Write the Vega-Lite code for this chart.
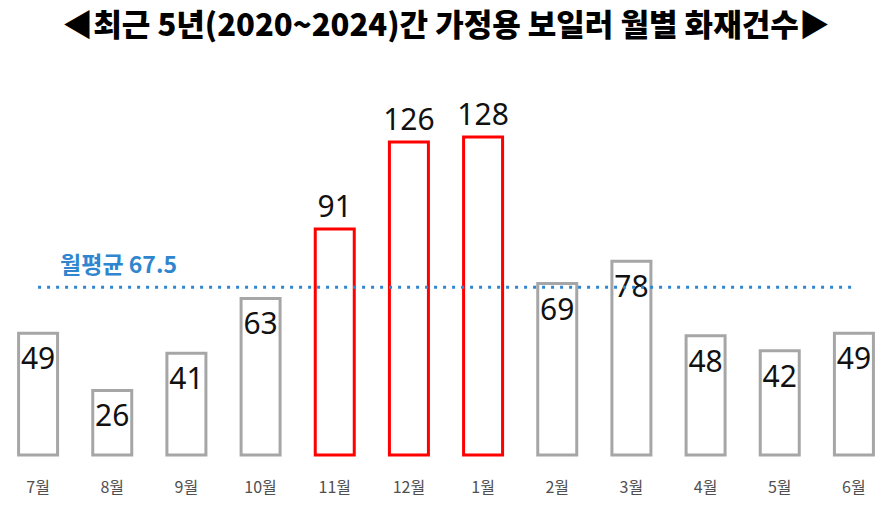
{
  "$schema": "https://vega.github.io/schema/vega-lite/v6.json",
  "autosize": {"type": "none"},
  "width": 890,
  "height": 400,
  "padding": {"left": 1, "right": 5, "top": 55, "bottom": 54},
  "background": "white",
  "title": {
    "text": "◀최근 5년(2020~2024)간 가정용 보일러 월별 화재건수▶",
    "font": "Noto Sans CJK KR",
    "fontSize": 31,
    "fontWeight": 900,
    "color": "#000000",
    "anchor": "middle",
    "offset": 12
  },
  "config": {"view": {"stroke": null}},
  "datasets": {
    "bars": [
      {"month": "7월", "count": 49, "peak": "N"},
      {"month": "8월", "count": 26, "peak": "N"},
      {"month": "9월", "count": 41, "peak": "N"},
      {"month": "10월", "count": 63, "peak": "N"},
      {"month": "11월", "count": 91, "peak": "Y"},
      {"month": "12월", "count": 126, "peak": "Y"},
      {"month": "1월", "count": 128, "peak": "Y"},
      {"month": "2월", "count": 69, "peak": "N"},
      {"month": "3월", "count": 78, "peak": "N"},
      {"month": "4월", "count": 48, "peak": "N"},
      {"month": "5월", "count": 42, "peak": "N"},
      {"month": "6월", "count": 49, "peak": "N"}
    ],
    "avg": [
      {"start": "7월", "end": "6월", "avg": 67.5, "label": "월평균 67.5"}
    ]
  },
  "layer": [
    {
      "data": {"name": "bars"},
      "mark": {"type": "bar", "width": 39, "fill": "white", "strokeWidth": 3},
      "encoding": {
        "x": {
          "field": "month", "type": "nominal", "sort": null,
          "scale": {"domain": ["7월", "8월", "9월", "10월", "11월", "12월", "1월", "2월", "3월", "4월", "5월", "6월"], "paddingInner": 0, "paddingOuter": 0},
          "axis": {"title": null, "ticks": false, "domain": false, "labelAngle": 0, "labelPadding": 24, "labelFontSize": 16, "labelColor": "#505050", "labelFont": "Noto Sans CJK KR", "grid": false}
        },
        "y": {"field": "count", "type": "quantitative", "scale": {"domain": [0, 161], "nice": false, "zero": true}, "axis": null},
        "stroke": {"field": "peak", "type": "nominal", "scale": {"domain": ["N", "Y"], "range": ["#a6a6a6", "#ff0000"]}, "legend": null}
      }
    },
    {
      "data": {"name": "bars"},
      "transform": [{"filter": "datum.peak == 'N'"}],
      "mark": {"type": "text", "baseline": "top", "dy": 12, "fontSize": 30, "font": "Noto Sans", "color": "#111111"},
      "encoding": {
        "x": {"field": "month", "type": "nominal", "sort": null},
        "y": {"field": "count", "type": "quantitative"},
        "text": {"field": "count", "type": "quantitative"}
      }
    },
    {
      "data": {"name": "bars"},
      "transform": [{"filter": "datum.peak == 'Y'"}],
      "mark": {"type": "text", "baseline": "alphabetic", "dy": -12, "fontSize": 30, "font": "Noto Sans", "color": "#111111"},
      "encoding": {
        "x": {"field": "month", "type": "nominal", "sort": null},
        "y": {"field": "count", "type": "quantitative"},
        "text": {"field": "count", "type": "quantitative"}
      }
    },
    {
      "data": {"name": "avg"},
      "mark": {"type": "rule", "color": "#2f86cf", "strokeWidth": 3, "strokeDash": [3, 6]},
      "encoding": {
        "x": {"field": "start", "type": "nominal", "bandPosition": 0.5},
        "x2": {"field": "end"},
        "y": {"field": "avg", "type": "quantitative"}
      }
    },
    {
      "data": {"name": "avg"},
      "mark": {"type": "text", "align": "left", "baseline": "alphabetic", "dx": 22, "dy": -14, "fontSize": 23, "fontWeight": "bold", "font": "Noto Sans CJK KR", "color": "#2f86cf"},
      "encoding": {
        "x": {"field": "start", "type": "nominal", "bandPosition": 0.5},
        "y": {"field": "avg", "type": "quantitative"},
        "text": {"field": "label", "type": "nominal"}
      }
    }
  ]
}
